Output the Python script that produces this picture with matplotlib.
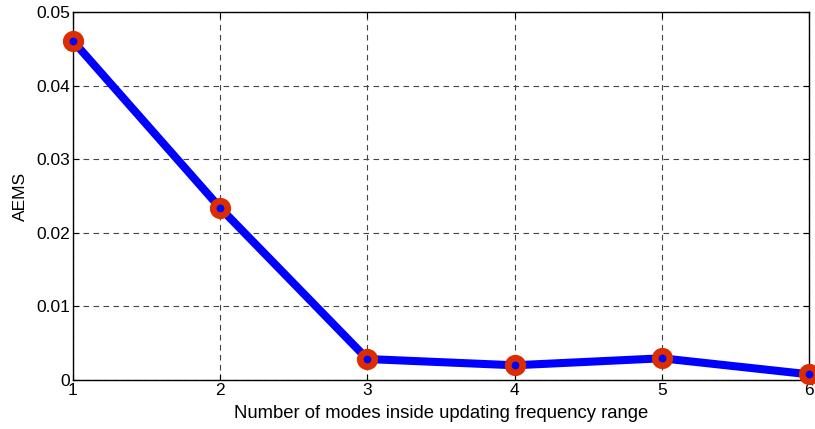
import matplotlib
matplotlib.use("Agg")
import matplotlib.pyplot as plt

plt.rcParams['font.family'] = ['Liberation Sans', 'DejaVu Sans']

modes = [1, 2, 3, 4, 5, 6]
aems = [0.0461, 0.0234, 0.00285, 0.0020, 0.00295, 0.00077]
x_ticks = [1, 2, 3, 4, 5, 6]
y_ticks = [0, 0.01, 0.02, 0.03, 0.04, 0.05]
y_tick_labels = ['0', '0.01', '0.02', '0.03', '0.04', '0.05']

fig = plt.figure(figsize=(8.15, 4.29), dpi=100)
ax = fig.add_axes([0.0892, 0.1142, 0.9038, 0.858])

ax.plot(modes, aems, color='#0000ff', linewidth=5.8, solid_capstyle='butt',
        marker='o', markersize=10.5, markerfacecolor='#0000ff',
        markeredgecolor='#dc2d00', markeredgewidth=4.8, zorder=3, clip_on=False)

ax.set_xlim(1, 6)
ax.set_ylim(0, 0.05)
ax.set_xticks(x_ticks)
ax.set_yticks(y_ticks)
ax.set_yticklabels(y_tick_labels)
ax.tick_params(direction='in', length=4, width=0.8, labelsize=12.5,
               top=True, right=True, colors='black', pad=2)
ax.grid(True, linestyle=(0, (5, 4)), color='#444444', linewidth=0.8)
for s in ax.spines.values():
    s.set_linewidth(1.0)

ax.set_xlabel('Number of modes inside updating frequency range', fontsize=13.3, labelpad=5)
ax.set_ylabel('AEMS', fontsize=12.5, labelpad=6)

fig.savefig('out.png', dpi=100)
